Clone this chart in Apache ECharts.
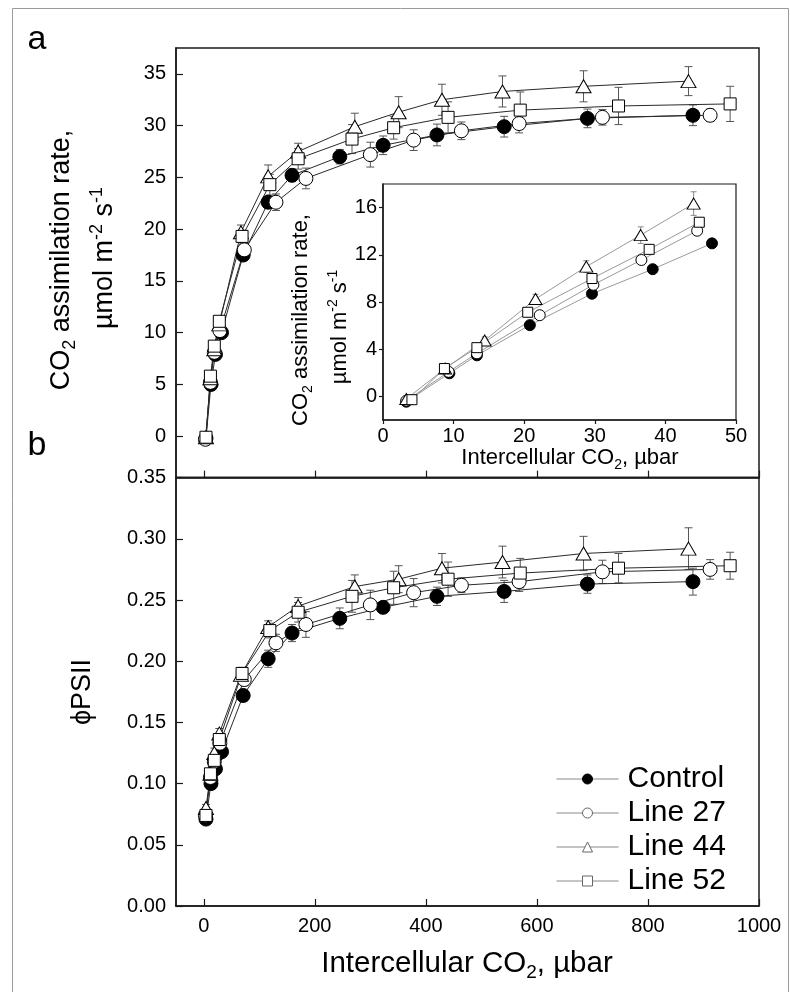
<!DOCTYPE html>
<html>
<head>
<meta charset="utf-8">
<script src="https://cdn.jsdelivr.net/npm/echarts@6/dist/echarts.min.js"></script>
<style>
html,body{margin:0;padding:0;background:#fff;}
#chart{width:790px;height:992px;}
</style>
</head>
<body>
<div id="chart"></div>
<script>
// ---------- data ----------
const seriesNames = ['Control', 'Line 27', 'Line 44', 'Line 52'];

// Intercellular CO2 (µbar), main panels
const ciControl = [4, 13, 21, 32, 71, 116, 159, 245, 323, 420, 541, 691, 881];
const ciLine27  = [3, 12, 19, 29, 73, 130, 184, 300, 378, 464, 568, 718, 912];
const ciLine44  = [4, 12, 19, 28, 67, 116, 170, 272, 351, 429, 538, 684, 873];
const ciLine52  = [4, 12, 19, 28, 69, 119, 170, 267, 342, 440, 570, 747, 948];

// Panel a: CO2 assimilation rate
const aControl = [-0.2, 5.0, 7.9, 10.0, 17.5, 22.6, 25.2, 27.0, 28.1, 29.1, 29.9, 30.7, 31.0];
const aLine27  = [-0.3, 5.2, 8.1, 10.2, 18.0, 22.6, 24.9, 27.2, 28.6, 29.5, 30.2, 30.8, 31.0];
const aLine44  = [-0.1, 5.6, 8.4, 10.8, 19.7, 25.1, 27.5, 29.9, 31.3, 32.5, 33.3, 33.8, 34.3];
const aLine52  = [-0.1, 5.8, 8.7, 11.1, 19.3, 24.3, 26.8, 28.7, 29.8, 30.8, 31.5, 31.9, 32.1];
const aErrControl = [0.3, 0.3, 0.3, 0.3, 0.5, 0.6, 0.6, 0.7, 0.9, 1.05, 1.0, 0.9, 1.0];
const aErrLine27  = [0.3, 0.3, 0.3, 0.3, 0.5, 0.8, 1.0, 1.2, 1.0, 0.85, 0.9, 0.75, 0.6];
const aErrLine44  = [0.3, 0.3, 0.3, 0.3, 0.7, 1.1, 0.8, 1.3, 1.5, 1.5, 1.5, 1.5, 1.4];
const aErrLine52  = [0.3, 0.3, 0.3, 0.3, 0.6, 1.0, 1.0, 1.4, 1.1, 1.5, 1.75, 1.8, 1.7];

// Panel b: phiPSII
const fControl = [0.071, 0.100, 0.112, 0.126, 0.172, 0.202, 0.223, 0.235, 0.244, 0.253, 0.257, 0.263, 0.265];
const fLine27  = [0.074, 0.105, 0.118, 0.133, 0.185, 0.215, 0.230, 0.246, 0.256, 0.262, 0.265, 0.273, 0.275];
const fLine44  = [0.080, 0.108, 0.125, 0.141, 0.189, 0.228, 0.245, 0.261, 0.267, 0.276, 0.281, 0.288, 0.292];
const fLine52  = [0.074, 0.108, 0.119, 0.136, 0.190, 0.225, 0.240, 0.253, 0.260, 0.267, 0.272, 0.276, 0.278];
const fErrControl = [0.003, 0.004, 0.004, 0.004, 0.005, 0.007, 0.007, 0.0085, 0.0045, 0.0075, 0.009, 0.0075, 0.011];
const fErrLine27  = [0.003, 0.004, 0.004, 0.004, 0.005, 0.007, 0.0105, 0.012, 0.0115, 0.006, 0.008, 0.0095, 0.008];
const fErrLine44  = [0.003, 0.004, 0.004, 0.004, 0.005, 0.005, 0.007, 0.0095, 0.011, 0.012, 0.013, 0.014, 0.017];
const fErrLine52  = [0.003, 0.004, 0.004, 0.004, 0.005, 0.006, 0.008, 0.013, 0.0135, 0.014, 0.012, 0.012, 0.011];

// Inset: low CO2 range
const ciInControl = [3.3, 9.4, 13.3, 20.8, 29.6, 38.2, 46.6];
const ciInLine27  = [3.3, 9.3, 13.3, 22.2, 29.8, 36.6, 44.5];
const ciInLine44  = [3.3, 8.8, 14.4, 21.6, 28.8, 36.5, 44.0];
const ciInLine52  = [4.1, 8.7, 13.3, 20.5, 29.6, 37.7, 44.8];
const inControl = [-0.45, 1.96, 3.48, 6.04, 8.70, 10.78, 12.97];
const inLine27  = [-0.36, 2.08, 3.65, 6.88, 9.46, 11.56, 14.04];
const inLine44  = [-0.22, 2.36, 4.74, 8.25, 11.00, 13.67, 16.34];
const inLine52  = [-0.28, 2.36, 4.13, 7.13, 9.99, 12.46, 14.76];
const inErrControl = [0.2, 0.2, 0.2, 0.2, 0.3, 0.3, 0.3];
const inErrLine27  = [0.2, 0.2, 0.2, 0.3, 0.3, 0.3, 0.3];
const inErrLine44  = [0.2, 0.3, 0.3, 0.4, 0.5, 0.7, 1.0];
const inErrLine52  = [0.2, 0.3, 0.3, 0.3, 0.3, 0.3, 0.3];

// Tick labels
const xTicks = [0, 200, 400, 600, 800, 1000];
const aTicks = [0, 5, 10, 15, 20, 25, 30, 35];
const fTicks = [0, 0.05, 0.10, 0.15, 0.20, 0.25, 0.30, 0.35];
const inXTicks = [0, 10, 20, 30, 40, 50];
const inYTicks = [0, 4, 8, 12, 16];

// ---------- chart ----------
const FONT = 'Liberation Sans, Arial, Helvetica, sans-serif';
const AX = '#1a1a1a';

const styles = {
  'Control': {symbol: 'circle', size: 14, fill: '#000'},
  'Line 27': {symbol: 'circle', size: 14, fill: '#fff'},
  'Line 44': {symbol: 'triangle', size: [15, 13], fill: '#fff'},
  'Line 52': {symbol: 'rect', size: 12, fill: '#fff'}
};
const insetStyles = {
  'Control': {symbol: 'circle', size: 11},
  'Line 27': {symbol: 'circle', size: 11},
  'Line 44': {symbol: 'triangle', size: [13, 11]},
  'Line 52': {symbol: 'rect', size: 10}
};

function zip(xs, ys) { return xs.map((x, i) => [x, ys[i]]); }
function zip3(xs, ys, es) { return xs.map((x, i) => [x, ys[i], es[i]]); }

function errRender(color, cap) {
  return function (params, api) {
    const x = api.value(0), y = api.value(1), e = api.value(2);
    const hi = api.coord([x, y + e]);
    const lo = api.coord([x, y - e]);
    const st = {stroke: color, lineWidth: 1};
    return {
      type: 'group',
      children: [
        {type: 'line', shape: {x1: hi[0], y1: hi[1], x2: lo[0], y2: lo[1]}, style: st},
        {type: 'line', shape: {x1: hi[0] - cap, y1: hi[1], x2: hi[0] + cap, y2: hi[1]}, style: st},
        {type: 'line', shape: {x1: lo[0] - cap, y1: lo[1], x2: lo[0] + cap, y2: lo[1]}, style: st}
      ]
    };
  };
}

const panelA = {Control: [ciControl, aControl, aErrControl], 'Line 27': [ciLine27, aLine27, aErrLine27], 'Line 44': [ciLine44, aLine44, aErrLine44], 'Line 52': [ciLine52, aLine52, aErrLine52]};
const panelB = {Control: [ciControl, fControl, fErrControl], 'Line 27': [ciLine27, fLine27, fErrLine27], 'Line 44': [ciLine44, fLine44, fErrLine44], 'Line 52': [ciLine52, fLine52, fErrLine52]};
const panelIn = {Control: [ciInControl, inControl, inErrControl], 'Line 27': [ciInLine27, inLine27, inErrLine27], 'Line 44': [ciInLine44, inLine44, inErrLine44], 'Line 52': [ciInLine52, inLine52, inErrLine52]};

const series = [];
function addPanel(panel, gi, inset) {
  seriesNames.forEach(name => {
    const [xs, ys, es] = panel[name];
    series.push({
      type: 'custom', name: 'err' + gi + name, xAxisIndex: gi, yAxisIndex: gi, z: inset ? 7 : 1,
      renderItem: errRender(inset ? '#888' : '#555', inset ? 3 : 4),
      encode: {x: 0, y: 1},
      data: zip3(xs, ys, es),
      silent: true
    });
  });
  seriesNames.forEach(name => {
    const [xs, ys] = panel[name];
    const s = styles[name];
    const is = insetStyles[name];
    series.push({
      type: 'line', name: name, xAxisIndex: gi, yAxisIndex: gi, z: inset ? 8 : 3,
      data: zip(xs, ys),
      symbol: s.symbol,
      symbolSize: inset ? is.size : s.size,
      showAllSymbol: true,
      lineStyle: {color: inset ? '#9a9a9a' : '#2a2a2a', width: 1},
      itemStyle: {color: s.fill, borderColor: '#000', borderWidth: 1, opacity: 1},
      emphasis: {disabled: true},
      silent: true
    });
  });
}
addPanel(panelA, 0, false);
addPanel(panelB, 1, false);
addPanel(panelIn, 2, true);

function valueAxis(gi, min, max, ticks, opts) {
  opts = opts || {};
  return {
    type: 'value', gridIndex: gi, min: min, max: max,
    axisLine: {show: true, onZero: false, lineStyle: {color: AX, width: 1.5}},
    axisTick: {show: true, inside: opts.inside !== false, length: opts.tickLen || 7, customValues: ticks, lineStyle: {color: AX, width: 1.2}},
    axisLabel: opts.noLabel ? {show: false} : {
      show: true, customValues: ticks, fontSize: opts.fontSize || 20, color: '#000', fontFamily: FONT,
      margin: opts.margin || 10,
      formatter: opts.formatter || (v => String(v))
    },
    splitLine: {show: false}
  };
}

function richTitle(text, size, subSize) {
  return {
    m: {fontSize: size, fontFamily: FONT, fill: '#000', lineHeight: Math.round(size * 1.25)},
    sub: {fontSize: subSize, fontFamily: FONT, fill: '#000', lineHeight: subSize, verticalAlign: 'bottom'},
    sup: {fontSize: subSize, fontFamily: FONT, fill: '#000', lineHeight: subSize, verticalAlign: 'top'}
  };
}

const option = {
  animation: false,
  backgroundColor: '#fff',
  textStyle: {fontFamily: FONT},
  grid: [
    {left: 176, top: 48, width: 583, height: 429.6, show: true, borderColor: AX, borderWidth: 1.5, backgroundColor: 'transparent'},
    {left: 176, top: 477.6, width: 583, height: 428.4, show: true, borderColor: AX, borderWidth: 1.5, backgroundColor: 'transparent'},
    {left: 383, top: 184, width: 353, height: 236, show: true, borderColor: AX, borderWidth: 1.2, backgroundColor: '#fff', z: 5}
  ],
  xAxis: [
    valueAxis(0, -50, 1000, xTicks, {noLabel: true}),
    valueAxis(1, -50, 1000, xTicks, {margin: 10}),
    Object.assign(valueAxis(2, 0, 50, inXTicks, {inside: false, tickLen: 4, fontSize: 20, margin: 6}), {z: 6})
  ],
  yAxis: [
    valueAxis(0, -4, 37.5, aTicks, {margin: 10}),
    valueAxis(1, 0, 0.35, fTicks, {margin: 10, formatter: v => v.toFixed(2)}),
    Object.assign(valueAxis(2, -2, 18, inYTicks, {inside: false, tickLen: 4, fontSize: 20, margin: 6}), {z: 6})
  ],
  legend: {
    orient: 'vertical', left: 556, top: 764, padding: 0,
    itemWidth: 62, itemHeight: 12.5, itemGap: 4,
    selectedMode: false,
    textStyle: {fontSize: 30, color: '#000', fontFamily: FONT, lineHeight: 30, padding: [0, 0, 0, 4]},
    data: seriesNames.map(n => ({
      name: n,
      itemStyle: {color: styles[n].fill, borderColor: n === 'Control' ? '#000' : '#666', borderWidth: 1},
      lineStyle: {color: '#8a8a8a', width: 1}
    }))
  },
  graphic: [
    {type: 'rect', shape: {x: 12.5, y: 8.5, width: 776, height: 990}, style: {fill: 'none', stroke: '#9a9a9a', lineWidth: 1}, silent: true},
    {type: 'text', x: 37, y: 40, style: {text: 'a', font: '34px ' + FONT, fill: '#000', textAlign: 'center', textVerticalAlign: 'middle'}},
    {type: 'text', x: 37, y: 446, style: {text: 'b', font: '34px ' + FONT, fill: '#000', textAlign: 'center', textVerticalAlign: 'middle'}},
    // panel a y title
    {type: 'text', x: 62, y: 260, rotation: Math.PI / 2,
      style: {text: '{m|CO}{sub|2}{m| assimilation rate,}', textAlign: 'center', textVerticalAlign: 'middle', rich: richTitle('', 27, 18)}},
    {type: 'text', x: 105, y: 258, rotation: Math.PI / 2,
      style: {text: '{m|\u00b5mol m}{sup|-2}{m| s}{sup|-1}', textAlign: 'center', textVerticalAlign: 'middle', rich: richTitle('', 27, 18)}},
    // panel b y title
    {type: 'text', x: 83, y: 692, rotation: Math.PI / 2,
      style: {text: '\u03d5PSII', font: '27px ' + FONT, fill: '#000', textAlign: 'center', textVerticalAlign: 'middle'}},
    // bottom x title
    {type: 'text', x: 467, y: 964,
      style: {text: '{m|Intercellular CO}{sub|2}{m|, \u00b5bar}', textAlign: 'center', textVerticalAlign: 'middle', rich: richTitle('', 29.5, 19)}},
    // inset titles
    {type: 'text', x: 301, y: 320, rotation: Math.PI / 2, z: 10,
      style: {text: '{m|CO}{sub|2}{m| assimilation rate,}', textAlign: 'center', textVerticalAlign: 'middle', rich: richTitle('', 22, 14)}},
    {type: 'text', x: 340, y: 327, rotation: Math.PI / 2, z: 10,
      style: {text: '{m|\u00b5mol m}{sup|-2}{m| s}{sup|-1}', textAlign: 'center', textVerticalAlign: 'middle', rich: richTitle('', 22, 14)}},
    {type: 'text', x: 570, y: 458, z: 10,
      style: {text: '{m|Intercellular CO}{sub|2}{m|, \u00b5bar}', textAlign: 'center', textVerticalAlign: 'middle', rich: richTitle('', 22, 14)}}
  ],
  series: series
};

const chart = echarts.init(document.getElementById('chart'), null, {renderer: 'canvas'});
chart.setOption(option);
</script>
</body>
</html>
